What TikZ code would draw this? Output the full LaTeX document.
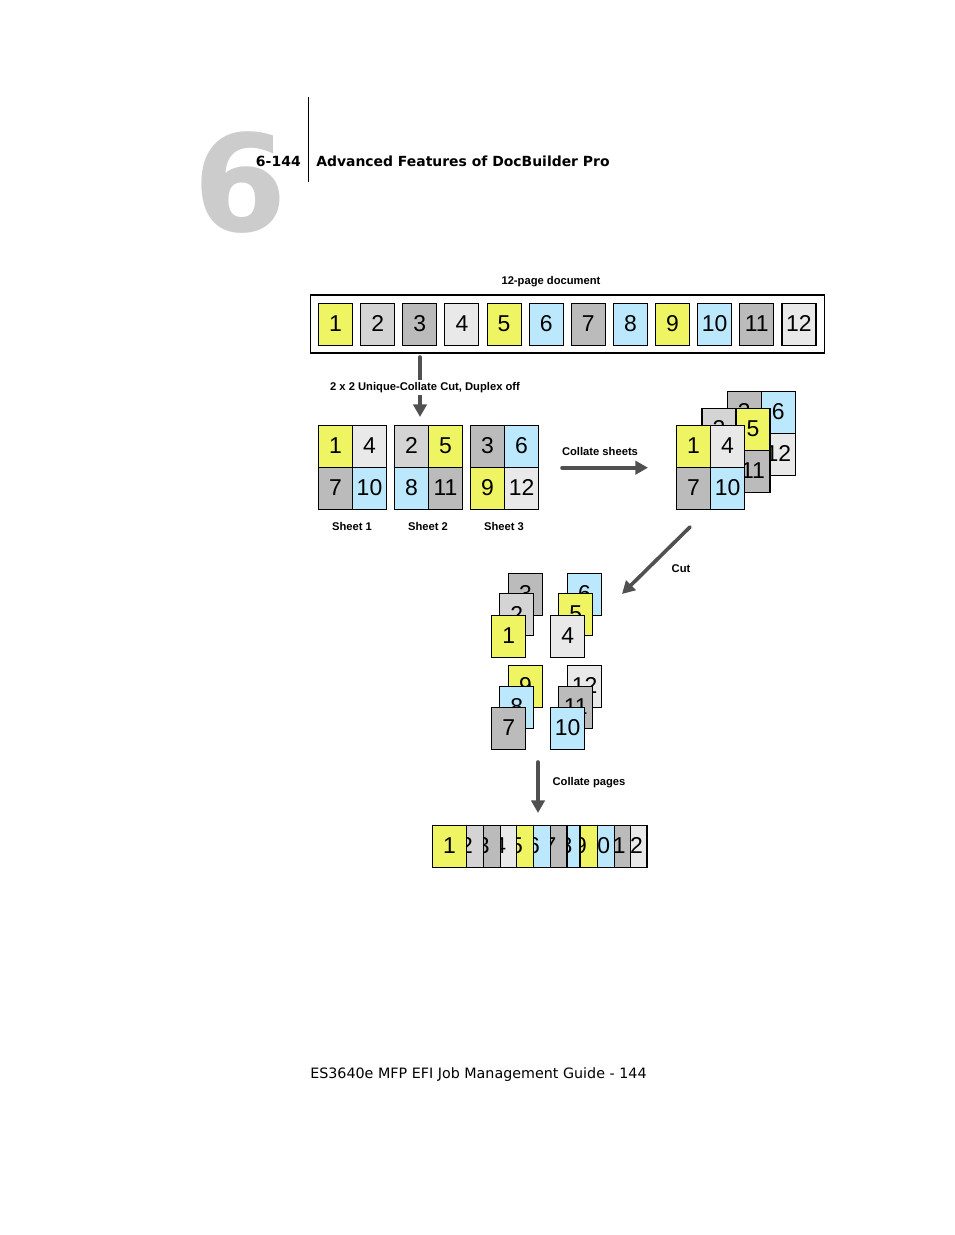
\documentclass[tikz,border=0pt]{standalone}
\usepackage{fontspec}
\setmainfont{Liberation Sans}
\newfontfamily\headfont{DejaVu Sans}
\usetikzlibrary{arrows.meta, positioning}
\definecolor{pageyellow}{HTML}{EFF462}
\definecolor{pagesilver}{HTML}{D4D4D4}
\definecolor{pagegray}{HTML}{BBBBBB}
\definecolor{pagepale}{HTML}{E9E9E9}
\definecolor{pageblue}{HTML}{BBE8FC}
\definecolor{arrowgray}{HTML}{505050}
\definecolor{bigsix}{HTML}{CCCCCC}

\begin{document}
\begin{tikzpicture}[
    x=0.75pt, y=-0.75pt,
    node distance=6.1pt,
    pagebox/.style={rectangle, draw=black, line width=0.8pt, inner sep=0pt, outer sep=0pt, minimum width=25.5pt, minimum height=31.6pt, text depth=1.2pt, font=\fontsize{17.2}{20}\selectfont},
    yel/.style={pagebox, fill=pageyellow},
    sil/.style={pagebox, fill=pagesilver},
    gra/.style={pagebox, fill=pagegray},
    pal/.style={pagebox, fill=pagepale},
    blu/.style={pagebox, fill=pageblue},
    caption/.style={font=\bfseries\fontsize{8.4}{10}\selectfont, inner sep=1pt},
    arrow/.style={-{Triangle[length=9.5pt, width=10pt]}, line width=2.7pt, draw=arrowgray, line cap=round}
]
\useasboundingbox (0,0) rectangle (954,1235);

% page header
\node[font=\headfont\bfseries\fontsize{101}{101}\selectfont, text=bigsix, inner sep=0pt] (chapter) at (240,182.5) {6};
\node[font=\headfont\bfseries\fontsize{10.5}{13}\selectfont, anchor=east, inner sep=0pt] (pageno) at (301,161) {6-144};
\node[font=\headfont\bfseries\fontsize{10.45}{13}\selectfont, anchor=west, inner sep=0pt] (title) at (316,161) {Advanced Features of DocBuilder Pro};
\coordinate (ruletop) at (308.5,97);
\coordinate (rulebot) at (308.5,182);
\draw[line width=0.75pt] (ruletop) -- (rulebot);

% 12-page document
\node[caption] (doclabel) at (551,282) {12-page document};
\node[draw=black, line width=1pt, minimum width=385.5pt, minimum height=43.5pt, inner sep=0pt] (docframe) at (567.5,324) {};
\node[yel] (p1) at (335.5,324.3) {1};
\node[sil, right=of p1] (p2) {2};
\node[gra, right=of p2] (p3) {3};
\node[pal, right=of p3] (p4) {4};
\node[yel, right=of p4] (p5) {5};
\node[blu, right=of p5] (p6) {6};
\node[gra, right=of p6] (p7) {7};
\node[blu, right=of p7] (p8) {8};
\node[yel, right=of p8] (p9) {9};
\node[blu, right=of p9] (p10) {10};
\node[gra, right=of p10] (p11) {11};
\node[pal, right=of p11] (p12) {12};

% cut into sheets
\coordinate (cuttop) at (420,357);
\coordinate (cutend) at (420,417);
\draw[arrow] (cuttop) -- (cutend);
\node[caption, fill=white, minimum height=11.5pt] (cutlabel) at (425,387.5) {2 x 2 Unique-Collate Cut, Duplex off};

% sheet 1
\node[yel] (a1) at (335.5,446.5) {1};
\node[pal, right=0pt of a1] (a4) {4};
\node[gra, below=0pt of a1] (a7) {7};
\node[blu, right=0pt of a7] (a10) {10};
\node[caption] (sheeta) at (352,526) {Sheet 1};

% sheet 2
\node[sil] (b2) at (411.5,446.5) {2};
\node[yel, right=0pt of b2] (b5) {5};
\node[blu, below=0pt of b2] (b8) {8};
\node[gra, right=0pt of b8] (b11) {11};
\node[caption] (sheetb) at (428,526) {Sheet 2};

% sheet 3
\node[gra] (c3) at (487.5,446.5) {3};
\node[blu, right=0pt of c3] (c6) {6};
\node[yel, below=0pt of c3] (c9) {9};
\node[pal, right=0pt of c9] (c12) {12};
\node[caption] (sheetc) at (504,526) {Sheet 3};

% collate sheets
\node[caption] (collabel) at (600,451) {Collate sheets};
\coordinate (coltail) at (562,467.7);
\coordinate (colhead) at (648,467.7);
\draw[arrow] (coltail) -- (colhead);

% stack of sheets, back to front
\node[gra] (z3) at (744.3,412.5) {3};
\node[blu, right=0pt of z3] (z6) {6};
\node[yel, below=0pt of z3] (z9) {9};
\node[pal, right=0pt of z9] (z12) {12};
\node[sil] (y2) at (719,429.5) {2};
\node[yel, right=0pt of y2] (y5) {5};
\node[blu, below=0pt of y2] (y8) {8};
\node[gra, right=0pt of y8] (y11) {11};
\node[yel] (x1) at (693.5,446.5) {1};
\node[pal, right=0pt of x1] (x4) {4};
\node[gra, below=0pt of x1] (x7) {7};
\node[blu, right=0pt of x7] (x10) {10};

% cut
\coordinate (sliceatail) at (690,527);
\coordinate (sliceahead) at (622,594);
\draw[arrow] (sliceatail) -- (sliceahead);
\node[caption] (slicelabel) at (681,569) {Cut};

% cut stacks
\node[gra] (k3) at (525.5,594.2) {3};
\node[sil] (k2) at (516.8,614.8) {2};
\node[yel] (k1) at (508.7,636.3) {1};
\node[blu] (k6) at (584.5,594.2) {6};
\node[yel] (k5) at (575.7,614.8) {5};
\node[pal] (k4) at (567.7,636.3) {4};
\node[yel] (k9) at (525.5,686.5) {9};
\node[blu] (k8) at (516.8,707.5) {8};
\node[gra] (k7) at (508.7,728.5) {7};
\node[pal] (k12) at (584.5,686.5) {12};
\node[gra] (k11) at (575.7,707.5) {11};
\node[blu] (k10) at (567.7,728.5) {10};

% collate pages
\coordinate (pagetail) at (538,762);
\coordinate (pagehead) at (538,813);
\draw[arrow] (pagetail) -- (pagehead);
\node[caption] (pagelabel) at (589,783) {Collate pages};

% collated set, last page at the bottom
\node[pal] (s12) at (630,846.3) {12};
\node[gra] (s11) at (613.6,846.3) {11};
\node[blu] (s10) at (597.3,846.3) {10};
\node[yel] (s9) at (580.5,846.3) {9};
\node[blu, minimum width=21pt] (s8) at (566,846.3) {8};
\node[gra] (s7) at (550,846.3) {7};
\node[blu] (s6) at (533.6,846.3) {6};
\node[yel] (s5) at (516.5,846.3) {5};
\node[pal] (s4) at (499.7,846.3) {4};
\node[gra] (s3) at (483.3,846.3) {3};
\node[sil] (s2) at (466.4,846.3) {2};
\node[yel] (s1) at (449.5,846.3) {1};

% footer
\node[font=\headfont\fontsize{10.72}{13}\selectfont, anchor=west, inner sep=0pt] (footer) at (310,1074.5) {ES3640e MFP EFI Job Management Guide - 144};

\end{tikzpicture}
\end{document}
